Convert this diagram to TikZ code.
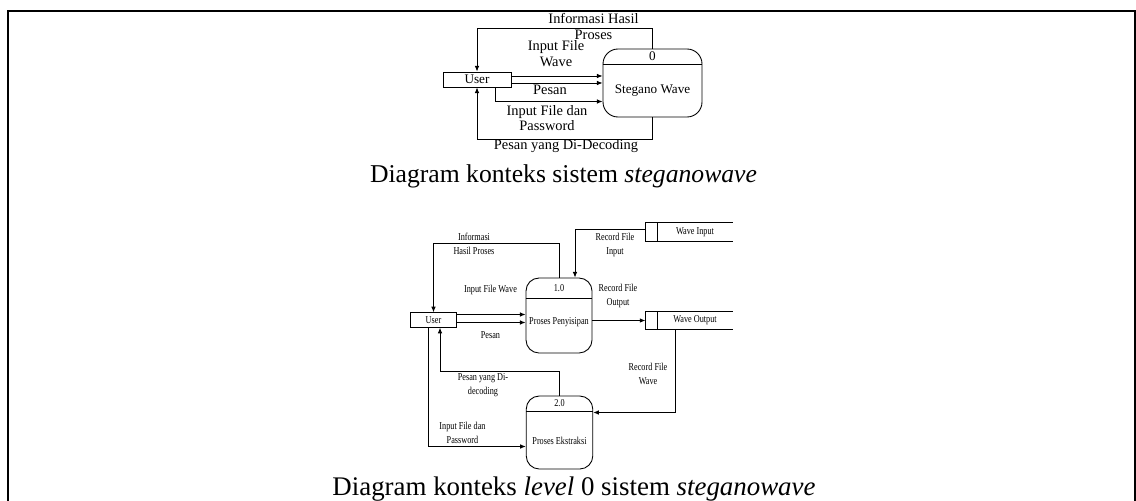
\documentclass[tikz,border=0pt]{standalone}
\usepackage{fontspec}
\setmainfont{Liberation Serif}
\newfontfamily\narrowserif[FakeStretch=0.78]{Liberation Serif}
\usetikzlibrary{positioning, arrows.meta, calc}

\begin{document}
\begin{tikzpicture}[
    ent/.style={rectangle, draw, line width=0.5pt, inner sep=0pt},
    proc/.style={rectangle, draw, line width=0.5pt, inner sep=0pt},
    store/.style={rectangle, minimum width=1.49cm, minimum height=0.35cm,
                  inner sep=0pt, font=\narrowserif\fontsize{6}{7.9}\selectfont},
    flow/.style={-{Latex[length=3.2pt,width=2.6pt]}, line width=0.5pt},
    lbl/.style={font=\fontsize{8.2}{9}\selectfont, align=center, inner sep=0pt},
    txt/.style={font=\fontsize{7.5}{8.5}\selectfont, inner sep=0pt},
    lblsm/.style={font=\narrowserif\fontsize{6}{7.9}\selectfont, align=center,
                  inner sep=0pt},
    captxt/.style={font=\fontsize{14.6}{16}\selectfont, anchor=base}
  ]
  \useasboundingbox (0,0) rectangle (22.72,-10.02);
  % outer frame
  \draw[line width=1.1pt] (0.16,-10.2) -- (0.16,-0.22) -- (22.70,-0.22) -- (22.70,-10.2);

  % Context diagram
  \node[ent, minimum width=1.36cm, minimum height=0.30cm, txt] (u0) at (9.54,-1.59) {User};
  \node[proc, rounded corners=0.3cm, minimum width=1.98cm, minimum height=1.36cm]
        (p0) at (13.05,-1.66) {};
  \draw[line width=0.5pt] ([yshift=-0.32cm]p0.north west) -- ([yshift=-0.32cm]p0.north east);
  \node[txt] (p0num) at ([yshift=-0.16cm]p0.north) {0};
  \node[txt] (p0name) at ([yshift=0.54cm]p0.south) {Stegano Wave};

  \draw[flow] ([yshift=0.07cm]u0.east) -- ([yshift=0.07cm]u0.east -| p0.west);
  \draw[flow] ([yshift=-0.07cm]u0.east) -- ([yshift=-0.07cm]u0.east -| p0.west);
  \draw[flow] ([xshift=0.36cm]u0.south) |- ([yshift=-0.37cm]p0.west);
  \draw[flow] (p0.north) -- ++(0,0.41) -| (u0.north);
  \draw[flow] (p0.south) -- ++(0,-0.44) -| (u0.south);

  \node[lbl] (l0a) at (11.87,-0.53) {Informasi Hasil\\Proses};
  \node[lbl] (l0b) at (11.12,-1.08) {Input File\\Wave};
  \node[lbl] (l0c) at (11.00,-1.80) {Pesan};
  \node[lbl] (l0d) at (10.94,-2.36) {Input File dan\\Password};
  \node[lbl] (l0e) at (11.32,-2.92) {Pesan yang Di-Decoding};
  \node[captxt] (cap0) at (11.27,-3.64) {Diagram konteks sistem \textit{steganowave}};

  % Level 0 diagram
  \node[ent, minimum width=0.92cm, minimum height=0.29cm, lblsm] (u1) at (8.67,-6.40) {User};
  \node[proc, rounded corners=0.26cm, minimum width=1.32cm, minimum height=1.50cm]
        (p1) at (11.18,-6.31) {};
  \draw[line width=0.5pt] ([yshift=-0.42cm]p1.north west) -- ([yshift=-0.42cm]p1.north east);
  \node[lblsm] (p1num) at ([yshift=-0.22cm]p1.north) {1.0};
  \node[lblsm] (p1name) at ([yshift=0.63cm]p1.south) {Proses Penyisipan};

  \node[proc, rounded corners=0.26cm, minimum width=1.33cm, minimum height=1.46cm]
        (p2) at (11.19,-8.65) {};
  \draw[line width=0.5pt] ([yshift=-0.31cm]p2.north west) -- ([yshift=-0.31cm]p2.north east);
  \node[lblsm] (p2num) at ([yshift=-0.16cm]p2.north) {2.0};
  \node[lblsm] (p2name) at ([yshift=0.58cm]p2.south) {Proses Ekstraksi};

  % Data stores
  \node[store] (win)  at (13.90,-4.64) {Wave Input};
  \node[store] (wout) at (13.90,-6.41) {Wave Output};
  \foreach \s in {win, wout} {
    \draw[line width=0.5pt] (\s.north east) -- ([xshift=-0.24cm]\s.north west)
          -- ([xshift=-0.24cm]\s.south west) -- (\s.south east);
    \draw[line width=0.5pt] (\s.north west) -- (\s.south west);
  }

  \draw[flow] ([yshift=0.11cm]u1.east) -- ([yshift=0.11cm]u1.east -| p1.west);
  \draw[flow] ([yshift=-0.05cm]u1.east) -- ([yshift=-0.05cm]u1.east -| p1.west);
  \draw[flow] (p1.north) -- ++(0,0.69) -| (u1.north);
  \draw[flow] ([xshift=-0.24cm,yshift=0.06cm]win.west) -| ([xshift=0.32cm]p1.north);
  \draw[flow] (p1.east |- wout.west) -- ([xshift=-0.24cm]wout.west);
  \draw[flow] ([xshift=-0.39cm]wout.south) |- ([yshift=0.40cm]p2.east);
  \draw[flow] (p2.north) -- ++(0,0.49) -| ([xshift=0.13cm]u1.south);
  \draw[flow] ([xshift=-0.11cm]u1.south) |- ([yshift=-0.28cm]p2.west);

  \node[lblsm] (l1a) at (9.48,-4.88) {Informasi\\Hasil Proses};
  \node[lblsm] (l1b) at (12.30,-4.90) {Record File\\Input};
  \node[lblsm] (l1c) at (9.81,-5.79) {Input File Wave};
  \node[lblsm] (l1d) at (9.81,-6.70) {Pesan};
  \node[lblsm] (l1e) at (12.36,-5.92) {Record File\\Output};
  \node[lblsm] (l1f) at (12.96,-7.48) {Record File\\Wave};
  \node[lblsm] (l1g) at (9.66,-7.70) {Pesan yang Di-\\decoding};
  \node[lblsm] (l1h) at (9.25,-8.65) {Input File dan\\Password};
  \node[captxt, font=\fontsize{15.3}{17}\selectfont] (cap1) at (11.48,-9.90)
        {Diagram konteks \textit{level} 0 sistem \textit{steganowave}};
\end{tikzpicture}
\end{document}
